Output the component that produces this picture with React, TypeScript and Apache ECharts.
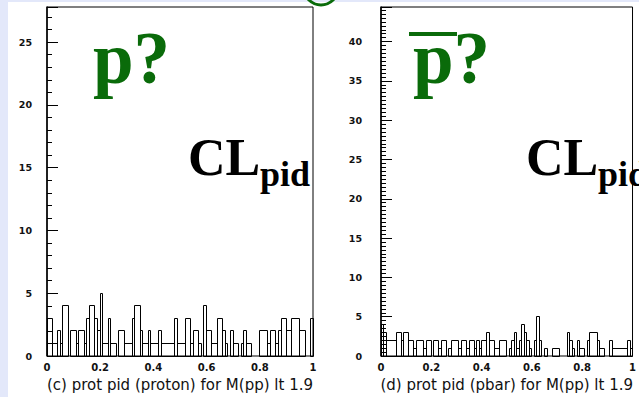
import React, { useEffect, useRef } from 'react';
import * as echarts from 'echarts';

// Histogram: 100 bins of width 0.01 over [0, 1]
const BIN_WIDTH = 0.01;

const protonCounts = [
  3, 3, 1, 1, 2, 1, 4, 4, 0, 2,
  2, 1, 2, 2, 1, 3, 4, 4, 3, 2,
  5, 1, 1, 3, 1, 1, 0, 2, 2, 1,
  1, 1, 3, 4, 4, 2, 1, 1, 2, 1,
  1, 1, 2, 1, 1, 1, 1, 1, 3, 1,
  1, 1, 3, 3, 1, 2, 2, 1, 0, 4,
  2, 2, 1, 1, 3, 3, 2, 1, 0, 2,
  1, 1, 0, 1, 2, 1, 1, 0, 0, 0,
  2, 2, 2, 1, 2, 2, 1, 2, 3, 3,
  2, 2, 3, 3, 3, 2, 2, 0, 0, 3,
];

const pbarCounts = [
  4, 3, 2, 2, 2, 2, 3, 3, 2, 3,
  3, 2, 2, 1, 2, 2, 2, 1, 2, 2,
  0, 2, 2, 1, 2, 2, 0, 1, 2, 2,
  2, 1, 2, 2, 1, 2, 2, 1, 2, 1,
  2, 2, 3, 2, 2, 1, 1, 2, 2, 2,
  0, 1, 2, 3, 1, 2, 4, 3, 2, 1,
  0, 2, 5, 2, 0, 1, 0, 0, 1, 1,
  1, 0, 0, 0, 3, 2, 1, 0, 2, 1,
  1, 0, 2, 3, 3, 3, 2, 1, 1, 0,
  0, 2, 1, 1, 1, 1, 1, 1, 2, 1,
];

const xTickLabels = ['0', '0.2', '0.4', '0.6', '0.8', '1'];
const titleProton = '(c) prot pid (proton) for M(pp) lt 1.9';
const titlePbar = '(d) prot pid (pbar) for M(pp) lt 1.9';

const GREEN = '#0a6b0a';
const SERIF = '"Liberation Serif", "Times New Roman", serif';
const SANS = '"DejaVu Sans", sans-serif';

// group consecutive equal bins into boxes: [start, end, count]
function boxes(counts: number[]): [number, number, number][] {
  const out: [number, number, number][] = [];
  let i = 0;
  while (i < counts.length) {
    let j = i;
    while (j + 1 < counts.length && counts[j + 1] === counts[i]) j++;
    if (counts[i] > 0) {
      out.push([+(i * BIN_WIDTH).toFixed(2), +((j + 1) * BIN_WIDTH).toFixed(2), counts[i]]);
    }
    i = j + 1;
  }
  return out;
}

const crisp = (v: number) => Math.round(v - 0.5) + 0.5;

export default function App() {
  const ref = useRef<HTMLDivElement>(null);

  useEffect(() => {
    if (!ref.current) return;
    const chart = echarts.init(ref.current, null, { renderer: 'svg' });

    const gridBase = {
      top: 7,
      width: 266,
      height: 349,
      show: true,
      borderColor: '#000',
      borderWidth: 1,
      backgroundColor: '#fff',
    };

    const valueX = (gi: number, title: string) => ({
      type: 'value',
      gridIndex: gi,
      min: 0,
      max: 1,
      interval: 0.2,
      axisLine: { show: false },
      axisTick: { show: false },
      splitLine: { show: false },
      axisLabel: {
        fontSize: 10,
        fontFamily: SANS,
        fontWeight: 'bold',
        color: '#111',
        margin: 6,
        formatter: (v: number) => xTickLabels[Math.round(v / 0.2)] ?? '',
      },
      name: title,
      nameLocation: 'middle',
      nameGap: 21,
      nameTextStyle: { fontSize: 15, fontFamily: SANS, color: '#111' },
    });

    const majorY = (gi: number, max: number, margin: number) => ({
      type: 'value',
      gridIndex: gi,
      position: 'left',
      min: 0,
      max,
      interval: 5,
      axisLine: { show: true, lineStyle: { color: '#000', width: 1.5 } },
      axisTick: { show: true, inside: true, length: 11, lineStyle: { color: '#000', width: 1 } },
      splitLine: { show: false },
      axisLabel: {
        fontSize: 9.5,
        fontFamily: SANS,
        fontWeight: 'bold',
        color: '#111',
        margin,
        formatter: (v: number) => (Math.abs(v % 5) < 1e-9 ? String(v) : ''),
      },
    });

    const minorY = (gi: number, max: number, step: number) => ({
      type: 'value',
      gridIndex: gi,
      position: 'left',
      offset: 0,
      min: 0,
      max,
      interval: step,
      axisLine: { show: false },
      axisTick: { show: true, inside: true, length: 5, lineStyle: { color: '#000', width: 1 } },
      splitLine: { show: false },
      axisLabel: { show: false },
    });

    const histSeries = (xi: number, yi: number, counts: number[]) => ({
      type: 'custom',
      xAxisIndex: xi,
      yAxisIndex: yi,
      data: boxes(counts),
      encode: { x: [0, 1], y: 2 },
      silent: true,
      renderItem: (_params: any, api: any) => {
        const p0 = api.coord([api.value(0), 0]);
        const p1 = api.coord([api.value(1), api.value(2)]);
        const x0 = crisp(p0[0]);
        const x1 = crisp(p1[0]);
        const y0 = crisp(p0[1]);
        const y1 = crisp(p1[1]);
        return {
          type: 'rect',
          shape: { x: x0, y: y1, width: x1 - x0, height: y0 - y1 },
          style: { fill: 'none', stroke: '#000', lineWidth: 1 },
        };
      },
    });

    const serifText = (x: number, y: number, text: string, size: number, color: string) => ({
      type: 'text',
      x,
      y,
      z: 100,
      style: {
        text,
        fontSize: size,
        fontFamily: SERIF,
        fontWeight: 'bold',
        fill: color,
        align: 'left',
        verticalAlign: 'middle',
      },
    });

    chart.setOption({
      animation: false,
      backgroundColor: '#fff',
      grid: [
        { ...gridBase, left: 47 },
        { ...gridBase, left: 381 },
      ],
      xAxis: [valueX(0, titleProton), valueX(1, titlePbar)],
      yAxis: [majorY(0, 27.8, 15), minorY(0, 27.8, 1), majorY(1, 44.4, 19), minorY(1, 44.4, 0.5)],
      series: [histSeries(0, 0, protonCounts), histSeries(1, 2, pbarCounts)],
      graphic: [
        { type: 'rect', shape: { x: 0, y: 0, width: 8, height: 397 }, style: { fill: '#e3e8fa' } },
        { type: 'rect', shape: { x: 0, y: 0, width: 639, height: 2 }, style: { fill: '#e3e8fa' } },
        {
          type: 'arc',
          shape: { cx: 321, cy: -12, r: 17, startAngle: 0, endAngle: Math.PI, clockwise: true },
          style: { stroke: GREEN, lineWidth: 3, fill: 'none' },
        },
        serifText(93, 58, 'p?', 73, GREEN),
        serifText(188, 157.3, 'CL', 52, '#000'),
        serifText(260, 173.8, 'pid', 36, '#000'),
        { type: 'rect', z: 100, shape: { x: 409, y: 32, width: 48, height: 4 }, style: { fill: GREEN } },
        serifText(413, 58, 'p?', 73, GREEN),
        serifText(526, 157.3, 'CL', 52, '#000'),
        serifText(598, 173.8, 'pid', 36, '#000'),
      ],
    });

    return () => chart.dispose();
  }, []);

  return (
    <div
      ref={ref}
      style={{ position: 'absolute', left: 0, top: 0, width: 639, height: 397 }}
    />
  );
}
